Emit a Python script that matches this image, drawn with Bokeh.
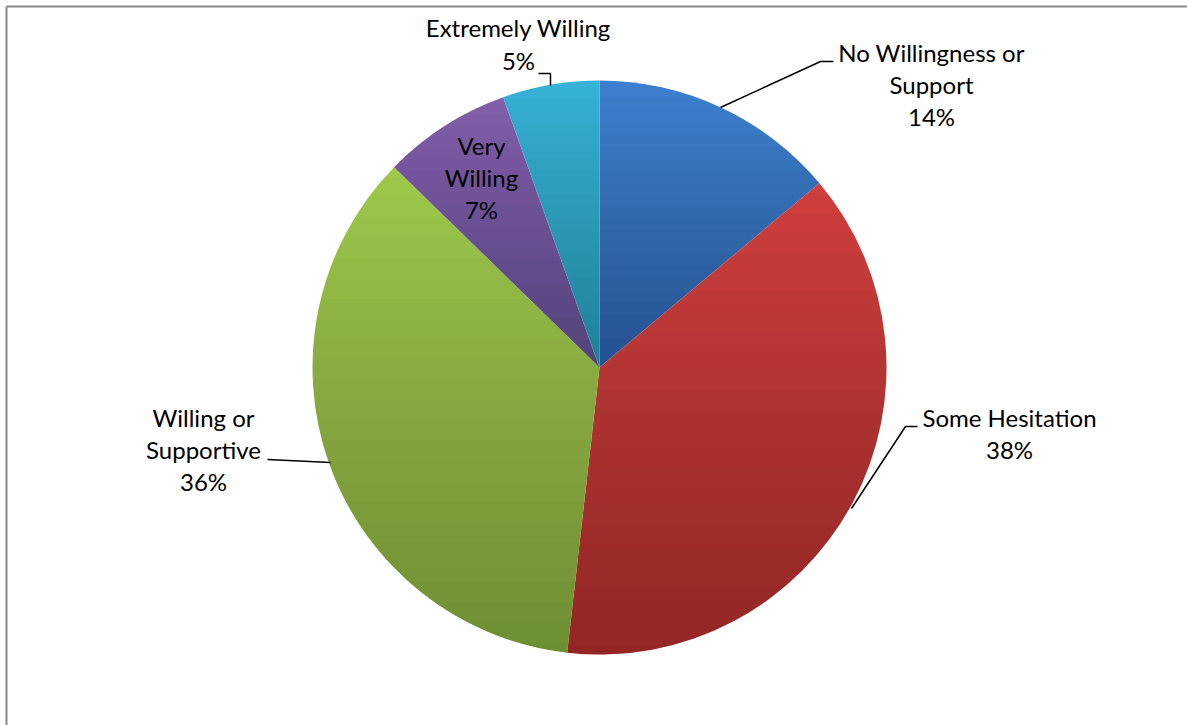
import math
from bokeh.plotting import figure
from bokeh.models import Range1d
from bokeh.core.properties import value
from bokeh.embed import file_html
from bokeh.resources import INLINE

# ---- data ----
categories = ["No Willingness or Support", "Some Hesitation", "Willing or Supportive",
              "Very Willing", "Extremely Willing"]
shares = [13.9, 37.9, 35.5, 7.25, 5.45]
pct_labels = ["14%", "38%", "36%", "7%", "5%"]
label_lines = [["No Willingness or", "Support"], ["Some Hesitation"],
               ["Willing or", "Supportive"], ["Very", "Willing"], ["Extremely Willing"]]

# ---- styles / layout ----
colors_top = ["#3D80CF", "#D03E3D", "#9EC94B", "#8162AA", "#36B3D7"]
W, H = 1187, 725
def sy(y):  # screen y -> data y
    return H - y

cx, cy, R = 599, sy(367), 287
FONT = value("Lato")
FS = "24px"
TEXT_SHIFT = -10

# label layout: (center x, first baseline, line step) in screen px
label_pos = [(931, 62, 32), (1009, 427, 32), (203, 427, 32), (481, 155, 32), (518, 37, 33)]
leaders = [
    [(720, 107), (820, 61), (833, 61)],
    [(851, 508), (905, 426), (917, 426)],
    [(267, 459), (330, 462)],
    None,
    [(538, 73), (550, 73), (550, 85)],
]

p = figure(width=W, height=H, x_range=Range1d(0, W), y_range=Range1d(0, H),
           output_backend="svg", toolbar_location=None, min_border=0)
p.axis.visible = False
p.grid.visible = False
p.outline_line_color = None
p.background_fill_color = "white"
p.border_fill_color = "white"

# frame (left and top edges)
p.line([6, 6], [0, sy(6)], line_color="#898989", line_width=2)
p.line([6, W], [sy(6), sy(6)], line_color="#898989", line_width=2)

def clip_below(poly, t):
    out = []
    n = len(poly)
    for i in range(n):
        P = poly[i]; Q = poly[(i + 1) % n]
        pin = P[1] <= t; qin = Q[1] <= t
        if pin:
            out.append(P)
        if pin != qin:
            s = (t - P[1]) / (Q[1] - P[1])
            out.append((P[0] + s * (Q[0] - P[0]), t))
    return out

total = sum(shares)
cum = 0.0
N = 24
alpha = 1 - 0.77 ** (1.0 / N)
for i, v in enumerate(shares):
    c0 = cum / total
    cum += v
    c1 = cum / total
    a_top = math.pi / 2 - 2 * math.pi * c0
    a_end = math.pi / 2 - 2 * math.pi * c1
    p.wedge(x=[cx], y=[cy], radius=R, start_angle=a_end, end_angle=a_top,
            fill_color=colors_top[i], line_color=None)
    # gradient shading (darker towards bottom of each slice)
    m = 300
    poly = [(cx, cy)] + [(cx + R * math.cos(a_end + (a_top - a_end) * k / m),
                          cy + R * math.sin(a_end + (a_top - a_end) * k / m)) for k in range(m + 1)]
    ys = [q[1] for q in poly]
    ymax, ymin = max(ys), min(ys)
    xs_l, ys_l = [], []
    for k in range(1, N + 1):
        t = ymax - (k - 0.5) / N * (ymax - ymin)
        cp = clip_below(poly, t)
        if len(cp) >= 3:
            xs_l.append([q[0] for q in cp]); ys_l.append([q[1] for q in cp])
    p.patches(xs_l, ys_l, fill_color="black", fill_alpha=alpha, line_color=None)

# labels
tx, ty, tt = [], [], []
for i in range(len(categories)):
    lx, b0, step = label_pos[i]
    lines = label_lines[i] + [pct_labels[i]]
    for j, s in enumerate(lines):
        tx.append(lx); ty.append(sy(b0 + j * step + TEXT_SHIFT)); tt.append(s)
p.text(x=tx, y=ty, text=tt, text_align="center", text_baseline="alphabetic",
       text_font=FONT, text_font_size=FS, text_color="#000000")

for ld in leaders:
    if ld:
        p.line([q[0] for q in ld], [sy(q[1]) for q in ld], line_color="black", line_width=1.5)

open("out.html", "w").write(file_html(p, INLINE))
